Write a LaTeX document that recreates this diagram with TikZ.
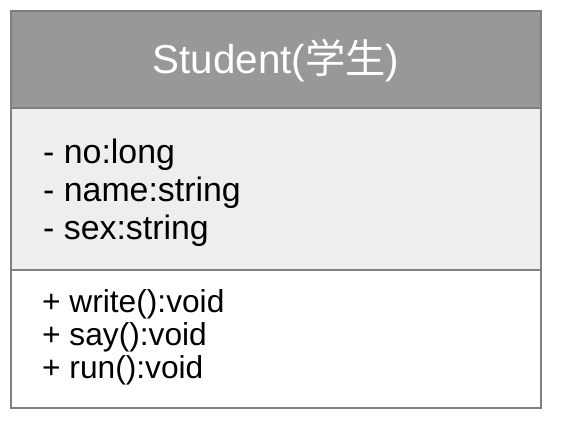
\documentclass[tikz,border=0pt]{standalone}
\usepackage{fontspec}
\setmainfont{Liberation Sans}
\newfontfamily\cjk{Noto Sans CJK SC}
\usepackage{xcolor}
\usepackage{tikz}
\usetikzlibrary{positioning}
\definecolor{cinzaborda}{RGB}{128,128,128}
\definecolor{cinzatopo}{RGB}{152,152,152}
\definecolor{cinzaclaro}{RGB}{238,238,238}

\begin{document}
\begin{tikzpicture}[x=1bp, y=-1bp]
  \useasboundingbox (0,0) rectangle (564,424);
  % cabecalho
  \draw[line width=2bp, cinzaborda, fill=cinzatopo] (11,11) rectangle (541,108);
  \node[anchor=base, text=white, font=\fontsize{40.5}{46}\selectfont, inner sep=0pt]
    (titulo) at (276,73) {Student({\cjk 学生})};
  % atributos
  \draw[line width=2bp, cinzaborda, fill=cinzaclaro] (11,108) rectangle (541,270);
  \node[anchor=base west, align=left, inner sep=0pt,
    font=\fontsize{34}{38}\selectfont] (atributos) at (43,239)
    {- no:long\\- name:string\\- sex:string};
  % metodos
  \draw[line width=2bp, cinzaborda, fill=white] (11,270) rectangle (541,408);
  \node[anchor=base west, align=left, inner sep=0pt,
    font=\fontsize{31.8}{33}\selectfont] (metodos) at (42,378)
    {+ write():void\\+ say():void\\+ run():void};
\end{tikzpicture}
\end{document}
